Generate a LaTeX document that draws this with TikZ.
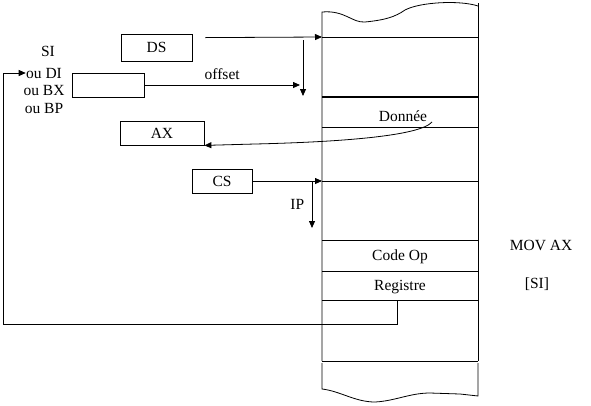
\documentclass[tikz,border=0pt]{standalone}
\usepackage{fontspec}
\setmainfont{Liberation Serif}
\usetikzlibrary{arrows.meta, positioning, calc}
\tikzset{
	reg/.style      ={rectangle, draw=black, minimum height=24pt, inner sep=0pt, text centered},
	txt/.style      ={inner sep=0pt},
	ptr/.style      ={-{Triangle[length=7pt, width=6pt]}},
	cellline/.style ={draw=black},
}

\begin{document}
\begin{tikzpicture}[x=1pt, y=-1pt, font=\fontsize{15.5}{18}\selectfont, line width=0.8pt]
	\useasboundingbox (0,0) rectangle (591,405);
	% registres
	\node[reg, minimum width=71pt, minimum height=27pt] (ds) at (156.5,47.5) {DS};
	\node[reg, minimum width=72pt] (off) at (108,85) {};
	\node[reg, minimum width=84pt] (ax) at (162,133) {AX};
	\node[reg, minimum width=60pt] (cs) at (222,181) {CS};
	\node[txt] (lsi) at (48,51) {SI};
	\node[txt] (ldi) at (44,73) {ou DI};
	\node[txt] (lbx) at (44,90) {ou BX};
	\node[txt] (lbp) at (44,108) {ou BP};
	% memoire
	\draw (322,361) -- (322,12) .. controls (345,10) and (352,23) .. (365,22)
		.. controls (385,20) and (395,17) .. (405,10) .. controls (420,2) and (460,0) .. (478,6);
	\draw (478,3) -- (478,361);
	\draw (322,363) -- (322,389) .. controls (340,391) and (355,402) .. (375,402)
		.. controls (395,401) and (410,393) .. (430,393) -- (460,394) -- (478,396) -- (478,363);
	\foreach \y in {37,127,181,240,271,300,361}
	\draw[cellline] (322,\y) -- (478,\y);
	\draw[line width=2pt] (322,97) -- (478,97);
	\coordinate (mds) at (322,37);
	\coordinate (mcs) at (322,181);
	\node[txt] (don) at (403,116) {Donnée};
	\node[txt] (op) at (400,257) {Code Op};
	\node[txt] (rg) at (400,287) {Registre};
	\node[txt] (mov) at (541,245) {MOV AX};
	\node[txt] (si) at (537,284) {[SI]};
	% fleches
	\draw[ptr] ($(ds.north east)+(13,4)$) -- (mds);
	\draw[ptr] (303,40) -- (303,96);
	\draw[ptr] (off.east) -- node[above=2pt] {offset} (300,85);
	\draw[ptr] (432,122) .. controls (420,136) and (340,142) .. (255,144) -- (ax.south east);
	\draw[ptr] (cs.east) -- (mcs);
	\draw[ptr] (312,181) -- node[left=4pt] {IP} (312,228);
	\draw[ptr] (397,300) -- (397,324) -- (3,324) -- (3,73) -- (ldi.west);
\end{tikzpicture}
\end{document}
